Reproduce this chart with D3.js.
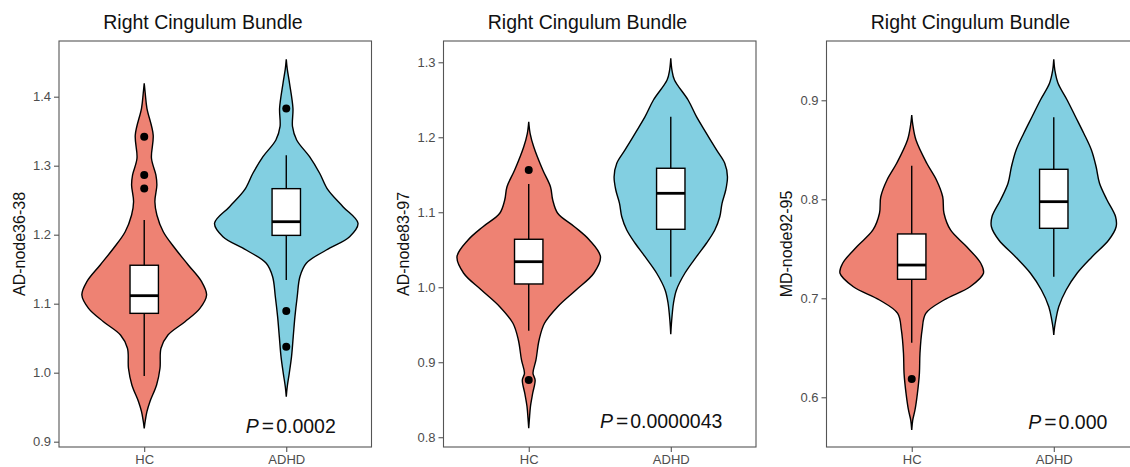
<!DOCTYPE html>
<html>
<head>
<meta charset="utf-8">
<script src="https://cdn.jsdelivr.net/npm/d3@7"></script>
<style>
  body { margin: 0; background: #fff; }
  svg { display: block; font-family: "Liberation Sans", Arial, Helvetica, sans-serif; }
</style>
</head>
<body>
<script>
// ---- data ----
const groups = ["HC", "ADHD"];
const titles = ["Right Cingulum Bundle", "Right Cingulum Bundle", "Right Cingulum Bundle"];
const yLabels = ["AD-node36-38", "AD-node83-97", "MD-node92-95"];
const yTicks = [
  [0.9, 1.0, 1.1, 1.2, 1.3, 1.4],
  [0.8, 0.9, 1.0, 1.1, 1.2, 1.3],
  [0.6, 0.7, 0.8, 0.9]
];
const yDomains = [[0.8923, 1.4807], [0.787, 1.3284], [0.5498, 0.9599]];
const pValues = ["0.0002", "0.0000043", "0.000"];

// violin outlines: [value, half width in category units]
const violinHC = [
  [[1.4194, 0], [1.405, 0.007], [1.3832, 0.019], [1.3445, 0.063], [1.3107, 0.051], [1.2865, 0.082],
   [1.272, 0.089], [1.2478, 0.075], [1.2286, 0.089], [1.2043, 0.134], [1.1803, 0.216], [1.1561, 0.31],
   [1.1319, 0.404], [1.1126, 0.439], [1.0933, 0.392], [1.0739, 0.287], [1.0546, 0.167], [1.0354, 0.118],
   [1.0064, 0.111], [0.9822, 0.087], [0.958, 0.04], [0.9435, 0.019], [0.93, 0.007], [0.9194, 0]],
  [[1.2208, 0], [1.205, 0.01], [1.1875, 0.035], [1.1564, 0.099], [1.1341, 0.153], [1.1164, 0.169],
   [1.0987, 0.204], [1.0808, 0.322], [1.0631, 0.427], [1.0408, 0.505], [1.0187, 0.458], [0.9964, 0.333],
   [0.9741, 0.204], [0.952, 0.111], [0.9297, 0.073], [0.9031, 0.051], [0.8853, 0.03], [0.8764, 0.045],
   [0.8587, 0.028], [0.8408, 0.012], [0.825, 0.005], [0.812, 0]],
  [[0.8852, 0], [0.875, 0.008], [0.8599, 0.03], [0.8364, 0.106], [0.8195, 0.174], [0.8026, 0.218],
   [0.7859, 0.227], [0.769, 0.273], [0.7521, 0.387], [0.7354, 0.486], [0.7253, 0.505], [0.7117, 0.411],
   [0.6983, 0.227], [0.6848, 0.099], [0.668, 0.073], [0.6444, 0.058], [0.6242, 0.054], [0.604, 0.04],
   [0.5872, 0.023], [0.577, 0.007], [0.567, 0]]
];
const violinADHD = [
  [[1.4542, 0], [1.44, 0.007], [1.4194, 0.023], [1.3832, 0.047], [1.3565, 0.044], [1.3372, 0.073],
   [1.313, 0.164], [1.289, 0.235], [1.2648, 0.294], [1.2406, 0.399], [1.2165, 0.505], [1.1971, 0.446],
   [1.1778, 0.282], [1.1586, 0.141], [1.1391, 0.096], [1.1101, 0.077], [1.0812, 0.061], [1.0522, 0.049],
   [1.0232, 0.037], [0.9991, 0.021], [0.98, 0.007], [0.9652, 0]],
  [[1.3053, 0], [1.29, 0.008], [1.2764, 0.026], [1.2497, 0.122], [1.2275, 0.181], [1.2053, 0.251],
   [1.1831, 0.322], [1.1653, 0.38], [1.1475, 0.399], [1.1297, 0.387], [1.112, 0.361], [1.0941, 0.345],
   [1.0764, 0.31], [1.0587, 0.251], [1.0408, 0.181], [1.0187, 0.099], [0.9964, 0.04], [0.9787, 0.019],
   [0.955, 0.006], [0.9373, 0]],
  [[0.9414, 0], [0.93, 0.008], [0.9172, 0.03], [0.9003, 0.094], [0.8834, 0.153], [0.8667, 0.211],
   [0.8498, 0.265], [0.8329, 0.298], [0.8162, 0.322], [0.7993, 0.375], [0.7824, 0.435], [0.7723, 0.439],
   [0.7589, 0.387], [0.742, 0.27], [0.7253, 0.164], [0.7084, 0.087], [0.6915, 0.035], [0.678, 0.014],
   [0.67, 0.005], [0.6629, 0]]
];

// box stats: [lower whisker, q1, median, q3, upper whisker]
const boxHC = [[0.9952, 1.086, 1.1116, 1.1557, 1.2213], [0.942, 1.0044, 1.0341, 1.064, 1.1377], [0.6552, 0.7192, 0.7336, 0.765, 0.834]];
const boxADHD = [[1.1343, 1.199, 1.2188, 1.2667, 1.315], [1.0141, 1.0773, 1.1253, 1.1587, 1.2275], [0.7218, 0.7707, 0.7976, 0.8303, 0.8828]];
const outHC = [[1.342, 1.2865, 1.267], [1.1564, 0.8764], [0.6185]];
const outADHD = [[1.383, 1.0894, 1.0377], [], []];

// annotation anchors (category x, value y)
const pAnchor = [[2.032, 0.9126], [1.932, 0.8124], [2.099, 0.568]];

// ---- layout ----
const W = 1130, H = 467;
const panelLeft = [59, 443.5, 826.5];
const panelW = 312.5;
const plotTop = 41, plotBottom = 447;
const fills = ["#EE8273", "#82CFE1"];

const svg = d3.select("body").append("svg")
  .attr("width", W).attr("height", H)
  .attr("viewBox", [0, 0, W, H]);

titles.forEach((title, i) => {
  const left = panelLeft[i], right = left + panelW;
  const x = d3.scaleLinear().domain([0.4, 2.6]).range([left, right]);
  const unit = x(1) - x(0);
  const y = d3.scaleLinear().domain(yDomains[i]).range([plotBottom, plotTop]);
  const g = svg.append("g");

  // title
  g.append("text")
    .attr("x", left + 144).attr("y", 29)
    .attr("text-anchor", "middle")
    .attr("font-size", 19.5).attr("fill", "#111")
    .text(title);

  // y axis
  const yAxis = g.append("g")
    .attr("transform", `translate(${left},0)`)
    .call(d3.axisLeft(y).tickValues(yTicks[i]).tickFormat(d3.format(".1f")).tickSize(5).tickPadding(3));
  yAxis.select(".domain").remove();
  yAxis.selectAll("line").attr("stroke", "#444");
  yAxis.selectAll("text").attr("font-size", 13).attr("fill", "#4D4D4D")
    .attr("font-family", "Liberation Sans, Arial, sans-serif");

  // x axis
  const xAxis = g.append("g")
    .attr("transform", `translate(0,${plotBottom})`)
    .call(d3.axisBottom(x).tickValues([1, 2]).tickFormat(d => groups[d - 1]).tickSize(5).tickPadding(3));
  xAxis.select(".domain").remove();
  xAxis.selectAll("line").attr("stroke", "#444");
  xAxis.selectAll("text").attr("font-size", 13).attr("fill", "#4D4D4D")
    .attr("font-family", "Liberation Sans, Arial, sans-serif");

  // y label
  g.append("text")
    .attr("transform", `translate(${left - 40},${(plotTop + plotBottom) / 2}) rotate(-90)`)
    .attr("text-anchor", "middle").attr("dy", "0.35em")
    .attr("font-size", 16).attr("fill", "#111")
    .text(yLabels[i]);

  // violins, boxes, outliers
  const data = [
    { k: 1, v: violinHC[i], b: boxHC[i], o: outHC[i], fill: fills[0] },
    { k: 2, v: violinADHD[i], b: boxADHD[i], o: outADHD[i], fill: fills[1] }
  ];
  data.forEach(d => {
    const cx = x(d.k);
    const area = d3.area()
      .curve(d3.curveCatmullRom.alpha(0.5))
      .y(p => y(p[0]))
      .x0(p => cx - p[1] * unit)
      .x1(p => cx + p[1] * unit);
    g.append("path").datum(d.v)
      .attr("d", area)
      .attr("fill", d.fill).attr("stroke", "#000").attr("stroke-width", 1.4);

    const [lo, q1, med, q3, hi] = d.b;
    const bw = 0.1 * unit;
    g.append("line").attr("x1", cx).attr("x2", cx).attr("y1", y(hi)).attr("y2", y(q3))
      .attr("stroke", "#000").attr("stroke-width", 1.4);
    g.append("line").attr("x1", cx).attr("x2", cx).attr("y1", y(q1)).attr("y2", y(lo))
      .attr("stroke", "#000").attr("stroke-width", 1.4);
    g.append("rect").attr("x", cx - bw).attr("width", 2 * bw)
      .attr("y", y(q3)).attr("height", y(q1) - y(q3))
      .attr("fill", "#fff").attr("stroke", "#000").attr("stroke-width", 1.4);
    g.append("line").attr("x1", cx - bw).attr("x2", cx + bw).attr("y1", y(med)).attr("y2", y(med))
      .attr("stroke", "#000").attr("stroke-width", 2.8);

    g.selectAll(null).data(d.o).join("circle")
      .attr("cx", cx).attr("cy", v => y(v)).attr("r", 4).attr("fill", "#000");
  });

  // panel border
  g.append("rect")
    .attr("x", left).attr("y", plotTop).attr("width", panelW).attr("height", plotBottom - plotTop)
    .attr("fill", "none").attr("stroke", "#555").attr("stroke-width", 1.1);

  // p value
  const pt = g.append("text")
    .attr("x", x(pAnchor[i][0])).attr("y", y(pAnchor[i][1]))
    .attr("text-anchor", "middle")
    .attr("font-size", 19.5).attr("fill", "#111");
  pt.append("tspan").attr("font-style", "italic").text("P");
  pt.append("tspan").attr("dx", 3).attr("font-size", 21).text("=");
  pt.append("tspan").attr("dx", 2).text(pValues[i]);
});
</script>
</body>
</html>
